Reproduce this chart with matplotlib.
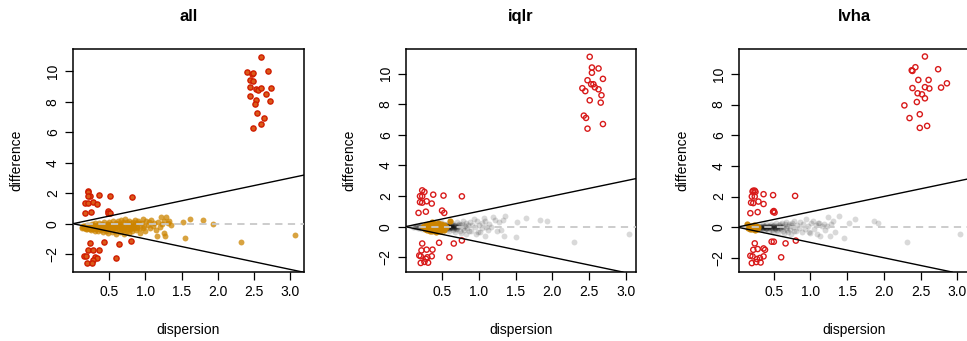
import matplotlib
matplotlib.use("Agg")
import matplotlib.pyplot as plt

plt.rcParams['font.family'] = ['Liberation Sans', 'DejaVu Sans']

# ---- panel "all": every feature in gold, called features ringed in red ----
all_x = [0.12, 0.13, 0.14, 0.15, 0.16, 0.17, 0.18, 0.19, 0.20, 0.20,
         0.21, 0.22, 0.23, 0.24, 0.25, 0.26, 0.27, 0.28, 0.29, 0.30, 0.30,
         0.31, 0.32, 0.33, 0.34, 0.35, 0.36, 0.37, 0.38, 0.39, 0.40, 0.41, 0.42, 0.43, 0.44, 0.45,
         0.46, 0.47, 0.48, 0.49, 0.50, 0.51, 0.52, 0.53, 0.54, 0.55, 0.56, 0.57, 0.58, 0.59, 0.60,
         0.61, 0.62, 0.63, 0.64, 0.65, 0.66, 0.67, 0.68, 0.69, 0.70, 0.71, 0.72, 0.73, 0.74, 0.75,
         0.76, 0.77, 0.78, 0.79, 0.80, 0.81, 0.82, 0.83, 0.84, 0.85, 0.86, 0.87, 0.88, 0.89, 0.90,
         0.92, 0.93, 0.95, 0.97, 0.98, 1.00, 1.01, 1.03, 1.05, 1.06, 1.08, 1.10, 1.12, 1.14, 1.16,
         1.18, 1.20, 1.22, 1.23, 1.25, 1.26, 1.27, 1.29, 1.31, 1.33, 1.35,
         0.22, 0.26, 0.28, 0.33, 0.35, 0.38, 0.41, 0.43, 0.46, 0.48, 0.52, 0.55, 0.58, 0.61,
         0.63, 0.66, 0.68, 0.72, 0.74, 0.78, 0.80, 0.84, 0.88,
         0.15, 0.18, 0.24, 0.31, 0.37, 0.45, 0.50, 0.57, 0.64, 0.70, 0.76, 0.82, 0.91, 0.96,
         1.52, 1.55, 1.61, 1.80, 1.93, 2.32, 3.06]
all_y = [-0.22, -0.28, -0.18, -0.30, -0.12, -0.25, -0.33, -0.08, -0.20, -0.38,
         -0.28, -0.10, -0.35, -0.18, -0.42, -0.05, -0.25, -0.32, -0.14, -0.45, 0.02,
         -0.22, -0.36, -0.08, -0.50, -0.28, 0.05, -0.18, -0.42, -0.30, -0.05, -0.55, -0.20, 0.10, -0.35, -0.12,
         -0.45, 0.00, -0.25, -0.60, 0.12, -0.15, -0.38, -0.05, -0.52, 0.18, -0.28, -0.10, -0.45, 0.05, -0.65,
         -0.20, 0.15, -0.35, -0.02, -0.55, 0.22, -0.15, -0.42, 0.08, -0.28, -0.70, 0.30, -0.08, -0.50, 0.12,
         -0.22, -0.62, 0.20, -0.35, 0.02, -0.15, -0.50, 0.10, -0.28, 0.25, -0.05, -0.40, 0.05, -0.20, 0.15,
         -0.30, -0.62, 0.05, 0.30, -0.15, -0.45, 0.18, -0.08, 0.10, -0.30, 0.25, -0.15, 0.05, -0.40, -0.80,
         0.12, -0.20, 0.42, -0.05, -0.62, 0.20, -0.80, 0.42, 0.05, 0.16, -0.10,
         -0.22, -0.30, -0.10, -0.25, -0.12, -0.20, -0.10, -0.30, -0.18, -0.05, -0.25, -0.15, -0.30, -0.05,
         -0.18, -0.30, -0.02, -0.15, -0.32, -0.10, -0.28, -0.12, -0.30,
         -0.15, -0.22, -0.28, -0.12, -0.32, -0.22, -0.35, -0.20, -0.12, -0.40, -0.05, -0.25, 0.05, -0.25,
         0.11, -0.94, 0.33, 0.22, -0.02, -1.22, -0.74]

all_sig_x = [2.59, 2.40, 2.47, 2.49, 2.69, 2.44, 2.48, 2.45, 2.52, 2.55,
             2.59, 2.74, 2.66, 2.45, 2.53, 2.72, 2.51, 2.54, 2.64, 2.60, 2.48,
             0.21, 0.21, 0.23, 0.21, 0.36, 0.51, 0.82, 0.17, 0.21, 0.27, 0.33,
             0.16, 0.25, 0.48, 0.49, 0.51,
             0.43, 0.63, 0.80, 0.23, 0.21, 0.27, 0.36, 0.59, 0.15, 0.18, 0.30,
             0.33, 0.28, 0.20, 0.26]
all_sig_y = [10.92, 9.97, 9.85, 9.90, 10.04, 9.43, 9.35, 8.98, 8.83, 8.80,
             8.90, 8.88, 8.50, 8.35, 8.09, 8.05, 7.83, 7.26, 6.91, 6.52, 6.25,
             2.17, 2.08, 1.80, 1.80, 1.88, 1.82, 1.77, 1.38, 1.34, 1.42, 1.29,
             0.68, 0.77, 0.83, 0.72, 0.70,
             -1.20, -1.33, -1.14, -1.29, -1.73, -1.73, -1.73, -2.23, -2.12, -2.15, -2.21,
             -2.27, -2.38, -2.60, -2.55]

# ---- panel "iqlr": grey features, orange reference set, red called ----
iqlr_x = [0.10, 0.12, 0.13, 0.15, 0.16, 0.17, 0.18, 0.19, 0.20, 0.21, 0.22, 0.23, 0.24,
          0.55, 0.56, 0.57, 0.58, 0.59, 0.60, 0.61, 0.62, 0.63, 0.64, 0.65, 0.66, 0.67, 0.68,
          0.69, 0.70, 0.71, 0.72, 0.73, 0.74, 0.75, 0.76, 0.77, 0.78, 0.79, 0.80, 0.81, 0.82,
          0.83, 0.84, 0.85,
          0.42, 0.45, 0.48, 0.50, 0.52, 0.53, 0.54,
          0.58, 0.60, 0.62, 0.64, 0.66, 0.68, 0.70, 0.60, 0.57, 0.63, 0.65, 0.69, 0.72,
          0.56, 0.59, 0.61, 0.62, 0.64, 0.67, 0.58, 0.55, 0.60, 0.66,
          0.87, 0.88, 0.90, 0.91, 0.93, 0.95, 0.96, 0.98, 0.99, 1.00, 1.02, 1.04, 1.05, 1.07,
          1.08, 1.09, 1.10, 1.12, 1.14, 1.17, 1.20, 1.22, 1.25, 1.27, 1.30, 1.33, 1.34, 1.36,
          1.51, 1.52, 1.64, 1.84, 1.93, 2.30, 3.05]
iqlr_y = [0.00, -0.05, 0.04, -0.02, 0.06, -0.08, 0.02, -0.10, 0.08, -0.04, 0.12, -0.12, 0.00,
          0.05, -0.15, 0.20, -0.05, 0.10, -0.25, 0.00, 0.15, -0.10, 0.25, -0.20, 0.05, -0.32, 0.12,
          -0.05, 0.30, -0.15, 0.00, 0.20, -0.25, 0.08, -0.40, 0.15, -0.08, 0.35, -0.20, 0.02, -0.45,
          0.22, -0.10, 0.10,
          0.28, -0.30, 0.32, -0.28, 0.15, -0.10, 0.02,
          0.00, 0.05, -0.05, 0.00, -0.10, 0.05, -0.05, -0.10, 0.08, 0.10, 0.12, -0.15, 0.08,
          -0.02, 0.02, -0.06, 0.04, -0.04, 0.00, -0.12, 0.06, 0.12, -0.02,
          -0.30, 0.30, -0.25, 0.12, 0.50, -0.05, -0.45, 0.35, -0.35, 0.10, -0.37, 0.22, -0.10, 0.57,
          -0.59, 0.35, 0.00, -0.20, 0.15, 0.00, 0.63, 0.46, -0.30, 0.28, -0.20, 0.46, -0.63, 0.72,
          -0.67, 0.28, 0.57, 0.41, 0.35, -0.98, -0.50]

iqlr_ref_x = [0.24, 0.26, 0.27, 0.28, 0.29, 0.30, 0.31, 0.32, 0.33, 0.34, 0.35, 0.36,
              0.37, 0.38, 0.39, 0.40, 0.41, 0.42, 0.43, 0.44, 0.45, 0.46, 0.47, 0.48,
              0.49, 0.50, 0.51, 0.52, 0.53, 0.54, 0.55, 0.61, 0.33, 0.38, 0.43, 0.36]
iqlr_ref_y = [-0.05, 0.05, -0.15, 0.10, -0.08, -0.22, 0.15, 0.00, -0.28, 0.20, -0.10, 0.08,
              -0.30, 0.22, -0.05, -0.20, 0.12, -0.32, 0.00, 0.25, -0.15, 0.10, -0.28, 0.02,
              0.18, -0.12, 0.05, -0.22, 0.10, -0.05, 0.00, 0.35, 0.05, -0.12, -0.08, 0.28]

iqlr_sig_x = [2.51, 2.54, 2.63, 2.54, 2.48, 2.69, 2.41, 2.45, 2.53, 2.56, 2.58, 2.63,
              2.67, 2.51, 2.66, 2.43, 2.46, 2.69, 2.48,
              0.23, 0.26, 0.38, 0.52, 0.77, 0.20, 0.23, 0.20, 0.23, 0.29, 0.36, 0.18,
              0.28, 0.50, 0.53,
              0.23, 0.46, 0.66, 0.77, 0.29, 0.37, 0.22, 0.19, 0.21, 0.36, 0.30, 0.28,
              0.26, 0.21, 0.31, 0.60]
iqlr_sig_y = [11.09, 10.39, 10.33, 10.05, 9.56, 9.65, 9.04, 8.85, 9.30, 9.30, 9.10, 8.97,
              8.58, 8.25, 8.10, 7.25, 7.10, 6.70, 6.40,
              2.37, 2.27, 2.09, 2.03, 1.98, 1.99, 1.99, 1.60, 1.57, 1.66, 1.51, 0.90,
              0.98, 1.05, 0.90,
              -1.10, -1.05, -1.10, -0.90, -1.50, -1.50, -1.55, -1.88, -1.93, -1.93, -2.00, -2.10,
              -2.30, -2.37, -2.35, -2.00]

# ---- panel "lvha" ----
lvha_x = [0.29, 0.30, 0.31, 0.32, 0.33, 0.34, 0.35, 0.36, 0.37, 0.38, 0.39, 0.40, 0.41,
          0.42, 0.43, 0.44, 0.45, 0.46, 0.47, 0.48, 0.49, 0.50, 0.51, 0.52, 0.53, 0.54,
          0.55, 0.56, 0.57, 0.58, 0.59, 0.60, 0.61, 0.62, 0.63, 0.64, 0.65, 0.66, 0.67,
          0.68, 0.69, 0.70, 0.71, 0.72, 0.73, 0.74, 0.75, 0.76, 0.77, 0.78,
          0.35, 0.38, 0.40, 0.42, 0.44, 0.46, 0.48, 0.50, 0.52, 0.55, 0.58, 0.60, 0.62,
          0.33, 0.36, 0.30,
          0.31, 0.34, 0.37, 0.39, 0.41, 0.43, 0.45, 0.47, 0.49, 0.51, 0.53, 0.56, 0.59,
          0.80, 0.82, 0.84, 0.86, 0.88, 0.90, 0.92, 0.94, 0.96, 0.98, 0.99, 1.01, 1.03,
          1.05, 1.07, 1.09, 1.10, 1.12, 1.13, 1.15, 1.18, 1.20, 1.22, 1.24, 1.27, 1.28,
          1.30, 1.33, 1.39,
          1.45, 1.52, 1.61, 1.87, 1.92, 2.32, 3.04]
lvha_y = [0.02, -0.10, 0.10, -0.05, 0.05, -0.15, 0.12, 0.00, -0.20, 0.08, -0.06, 0.18, -0.12,
          0.02, -0.25, 0.10, -0.04, 0.22, -0.18, 0.05, -0.30, 0.15, -0.08, 0.00, 0.28, -0.20,
          0.08, -0.35, 0.12, -0.05, 0.20, -0.15, 0.30, -0.25, 0.02, -0.40, 0.18, -0.08, 0.35,
          -0.20, 0.05, -0.30, 0.22, -0.10, 0.12, -0.45, 0.30, 0.00, -0.22, 0.40,
          -0.02, 0.02, -0.04, 0.06, -0.02, 0.00, -0.06, 0.04, -0.10, 0.02, 0.06, 0.00, 0.08,
          -0.02, 0.06, 0.00,
          0.04, -0.06, 0.02, -0.08, 0.04, 0.00, 0.08, -0.02, 0.06, -0.04, 0.02, -0.06, 0.00,
          -0.28, 0.12, -0.05, 0.35, -0.35, 0.20, -0.15, 0.50, 0.05, -0.30, -0.39, 0.25, 0.37,
          -0.10, 0.15, -0.45, 0.30, 0.30, -0.61, 0.05, 0.20, -0.20, 0.10, 0.66, -0.57, 0.20,
          0.37, -0.30, 0.70,
          -0.70, 0.30, 0.54, 0.39, 0.26, -1.00, -0.46]

lvha_ref_x = [0.14, 0.15, 0.16, 0.17, 0.18, 0.19, 0.20, 0.21, 0.22, 0.23, 0.24, 0.25,
              0.26, 0.27, 0.28, 0.18, 0.21, 0.24]
lvha_ref_y = [0.20, -0.05, 0.06, -0.12, 0.00, 0.10, -0.15, 0.05, -0.08, 0.12, -0.18, 0.00,
              0.08, -0.10, 0.02, -0.08, -0.02, 0.05]

lvha_sig_x = [2.56, 2.43, 2.38, 2.39, 2.74, 2.47, 2.61, 2.86, 2.39, 2.56, 2.62, 2.78,
              2.46, 2.52, 2.56, 2.45, 2.28, 2.35, 2.49, 2.59, 2.49,
              0.22, 0.24, 0.21, 0.25, 0.36, 0.49, 0.79, 0.20, 0.24, 0.19, 0.22, 0.29, 0.36,
              0.18, 0.28, 0.50, 0.51, 0.49,
              0.24, 0.47, 0.50, 0.66, 0.80, 0.28, 0.36, 0.38, 0.22, 0.18, 0.21, 0.36,
              0.31, 0.27, 0.26, 0.20, 0.32, 0.60]
lvha_sig_y = [11.14, 10.44, 10.24, 10.20, 10.31, 9.61, 9.61, 9.39, 9.08, 9.14, 9.05, 9.11,
              8.74, 8.67, 8.41, 8.17, 7.95, 7.12, 7.37, 6.61, 6.48,
              2.38, 2.38, 2.33, 2.30, 2.15, 2.09, 2.04, 2.00, 2.00, 1.60, 1.57, 1.67, 1.51,
              0.91, 0.98, 1.05, 0.95, 1.00,
              -1.06, -0.95, -0.95, -1.06, -0.88, -1.43, -1.39, -1.48, -1.48, -1.87, -1.91, -1.91,
              -2.01, -2.08, -2.28, -2.35, -2.31, -1.97]

GOLD = '#CC8400'
RED = '#D81A1A'


def draw_panel(ax, title, xlim, ylim, pts_x, pts_y, sig_x, sig_y,
               ref_x=None, ref_y=None, grey=False):
    if grey:
        ax.scatter(pts_x, pts_y, s=18, color='black', alpha=0.15, linewidths=0, zorder=2)
        ax.scatter(ref_x, ref_y, s=20, color=GOLD, alpha=0.95, linewidths=0, zorder=3)
        ax.scatter(sig_x, sig_y, s=14, facecolors='none', edgecolors=RED,
                   linewidths=1.0, zorder=4)
    else:
        ax.scatter(pts_x, pts_y, s=18, color=GOLD, alpha=0.75, linewidths=0, zorder=2)
        ax.scatter(sig_x, sig_y, s=14, color='#DA5A18', edgecolors='#D01C00',
                   linewidths=1.0, zorder=4)

    # reference lines on top of the points
    ax.axhline(0, color='#C8C8C8', lw=1.3, ls=(0, (4, 3)), zorder=5)
    ax.axline((0, 0), slope=1, color='black', lw=1.0, zorder=6)
    ax.axline((0, 0), slope=-1, color='black', lw=1.0, zorder=6)

    ax.set_xlim(*xlim)
    ax.set_ylim(*ylim)
    ax.set_xticks([0.5, 1.0, 1.5, 2.0, 2.5, 3.0])
    ax.set_xticklabels(['0.5', '1.0', '1.5', '2.0', '2.5', '3.0'])
    ax.set_yticks([-2, 0, 2, 4, 6, 8, 10])
    ax.tick_params(axis='both', direction='out', length=5.5, width=0.9, labelsize=10,
                   color='black')
    ax.tick_params(axis='x', pad=4)
    ax.tick_params(axis='y', pad=4)
    for lab in ax.get_yticklabels():
        lab.set_rotation(90)
        lab.set_va('center')
    for sp in ax.spines.values():
        sp.set_linewidth(1.1)
        sp.set_color('black')

    ax.text(0.5, 1.145, title, transform=ax.transAxes, ha='center', va='center',
            fontsize=12, fontweight='bold')
    ax.text(0.5, -0.26, 'dispersion', transform=ax.transAxes, ha='center',
            va='center', fontsize=10)
    ax.text(-0.245, 0.5, 'difference', transform=ax.transAxes, ha='center',
            va='center', rotation=90, fontsize=10)


fig = plt.figure(figsize=(9.67, 3.41), dpi=100)
ax1 = fig.add_axes([0.0755, 0.2023, 0.2389, 0.654])
ax2 = fig.add_axes([0.4199, 0.2023, 0.2378, 0.654])
ax3 = fig.add_axes([0.7642, 0.2023, 0.2378, 0.654])

draw_panel(ax1, 'all', (0.0, 3.19), (-3.17, 11.46), all_x, all_y, all_sig_x, all_sig_y)
draw_panel(ax2, 'iqlr', (0.01, 3.14), (-2.96, 11.6), iqlr_x, iqlr_y, iqlr_sig_x, iqlr_sig_y,
           iqlr_ref_x, iqlr_ref_y, grey=True)
draw_panel(ax3, 'lvha', (0.025, 3.16), (-2.93, 11.63), lvha_x, lvha_y, lvha_sig_x, lvha_sig_y,
           lvha_ref_x, lvha_ref_y, grey=True)

fig.savefig('out.png', dpi=100)
